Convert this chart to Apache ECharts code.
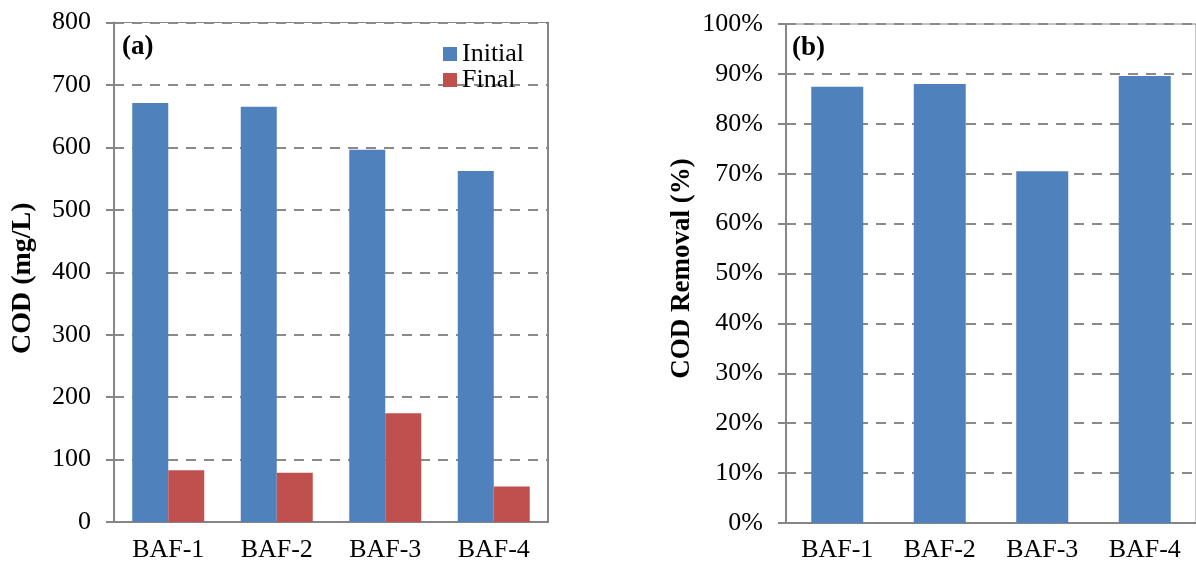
<!DOCTYPE html>
<html>
<head>
<meta charset="utf-8">
<script src="https://cdn.jsdelivr.net/npm/echarts@6/dist/echarts.min.js"></script>
<style>
  html, body { margin: 0; padding: 0; background: #fff; }
  #chart { width: 1196px; height: 567px; }
</style>
</head>
<body>
<div id="chart"></div>
<script>
// Reactor labels
const categories = ['BAF-1', 'BAF-2', 'BAF-3', 'BAF-4'];
// COD concentration (mg/L)
const codInitial = [671, 665, 596, 562];
const codFinal = [83, 79, 174, 57];
// COD removal (%)
const codRemoval = [87.4, 88.0, 70.5, 89.6];
// Axis ranges
const codTicks = { min: 0, max: 800, interval: 100 };
const removalTicks = { min: 0, max: 100, interval: 10 };

const FONT = '"Liberation Serif", "Times New Roman", serif';
const AXIS_GRAY = '#868686';
const BLUE = '#4F81BD';
const RED = '#C0504D';

const gridLine = { show: true, lineStyle: { color: '#8a8a8a', width: 2, type: [10, 8] } };
const axisLine = { show: true, lineStyle: { color: AXIS_GRAY, width: 2 } };
const tickLabel = { color: '#000', fontFamily: FONT, fontSize: 26 };
const nameBase = { color: '#000', fontFamily: FONT, fontWeight: 'bold' };

const chart = echarts.init(document.getElementById('chart'), null, { renderer: 'canvas' });

chart.setOption({
  animation: false,
  backgroundColor: '#fff',
  grid: [
    { left: 114, top: 22.5, width: 434, height: 499.5, show: true, borderColor: AXIS_GRAY, borderWidth: 1 },
    { left: 786, top: 24, width: 416, height: 499, show: true, borderColor: AXIS_GRAY, borderWidth: 1 }
  ],
  legend: {
    orient: 'vertical',
    left: 438,
    top: 36,
    itemWidth: 14,
    itemHeight: 14,
    itemGap: 0,
    icon: 'rect',
    textStyle: { color: '#000', fontFamily: FONT, fontSize: 26 },
    data: ['Initial', 'Final']
  },
  xAxis: [
    {
      type: 'category', gridIndex: 0, data: categories,
      axisLine: axisLine, axisTick: { show: false },
      axisLabel: Object.assign({ margin: 15 }, tickLabel)
    },
    {
      type: 'category', gridIndex: 1, data: categories,
      axisLine: axisLine, axisTick: { show: false },
      axisLabel: Object.assign({ margin: 14 }, tickLabel)
    }
  ],
  yAxis: [
    {
      type: 'value', gridIndex: 0,
      min: codTicks.min, max: codTicks.max, interval: codTicks.interval,
      name: 'COD (mg/L)', nameLocation: 'middle', nameGap: 77, nameRotate: 90,
      nameTextStyle: Object.assign({ fontSize: 28, padding: [0, 12, 0, 0] }, nameBase),
      axisLine: axisLine,
      axisTick: { show: true, inside: false, length: 8, lineStyle: { color: AXIS_GRAY, width: 2 } },
      axisLabel: Object.assign({ margin: 23 }, tickLabel),
      splitLine: gridLine
    },
    {
      type: 'value', gridIndex: 0, position: 'right',
      min: codTicks.min, max: codTicks.max, interval: codTicks.interval,
      axisLine: axisLine, axisTick: { show: false }, axisLabel: { show: false }, splitLine: { show: false }
    },
    {
      type: 'value', gridIndex: 1,
      min: removalTicks.min, max: removalTicks.max, interval: removalTicks.interval,
      name: 'COD Removal (%)', nameLocation: 'middle', nameGap: 90, nameRotate: 90,
      nameTextStyle: Object.assign({ fontSize: 27, padding: [0, 0, 0, 10] }, nameBase),
      axisLine: axisLine,
      axisTick: { show: true, inside: false, length: 8, lineStyle: { color: AXIS_GRAY, width: 2 } },
      axisLabel: Object.assign({ margin: 23, formatter: '{value}%' }, tickLabel),
      splitLine: gridLine
    }
  ],
  graphic: [
    { type: 'text', left: 122, top: 34, style: { text: '(a)', font: 'bold 27px ' + FONT, fill: '#000' } },
    { type: 'text', left: 792, top: 35, style: { text: '(b)', font: 'bold 27px ' + FONT, fill: '#000' } }
  ],
  series: [
    {
      name: 'Initial', type: 'bar', xAxisIndex: 0, yAxisIndex: 0,
      data: codInitial, barWidth: 36, barGap: '0%',
      itemStyle: { color: BLUE }
    },
    {
      name: 'Final', type: 'bar', xAxisIndex: 0, yAxisIndex: 0,
      data: codFinal, barWidth: 36, barGap: '0%',
      itemStyle: { color: RED }
    },
    {
      name: 'Removal', type: 'bar', xAxisIndex: 1, yAxisIndex: 2,
      data: codRemoval, barWidth: 52,
      itemStyle: { color: BLUE }
    }
  ]
});
</script>
</body>
</html>
